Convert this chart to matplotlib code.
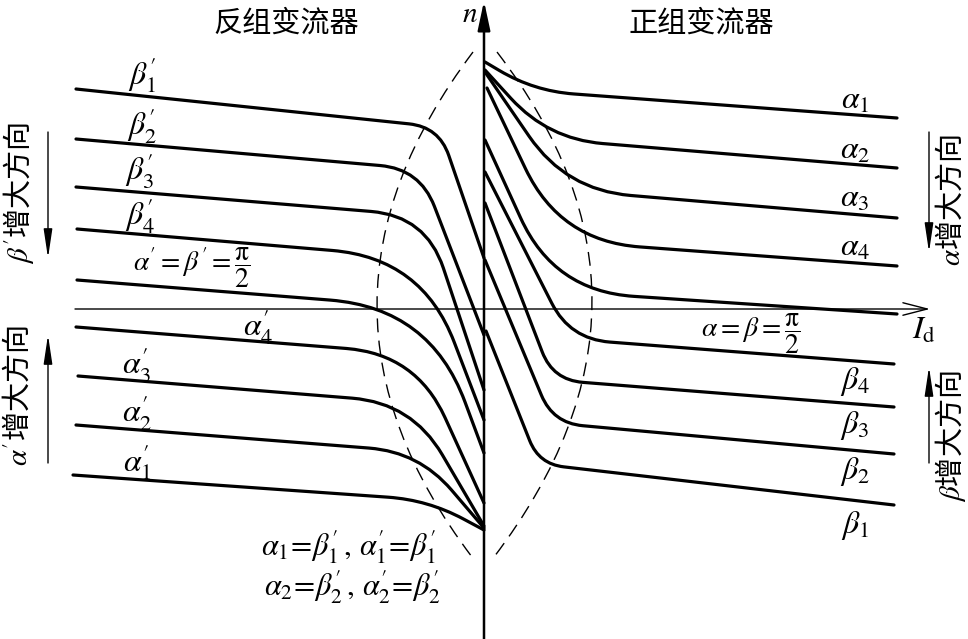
import numpy as np
import matplotlib.pyplot as plt
from matplotlib.path import Path
from matplotlib.patches import PathPatch

plt.rcParams['mathtext.fontset'] = 'stix'
plt.rcParams['font.family'] = ['Noto Sans CJK SC', 'DejaVu Sans']

# 正组变流器 (right side): start on n axis, bend corner, end point, bend size
right_start = [(1, 247), (1, 239), (1, 237), (3, 221), (1, 169), (1, 137), (1, 106), (1, 49), (2, -22)]
right_corner = [(50, 218), (64, 170), (82, 119), (76, 68), (70, 18), (86, -30), (69, -71), (69, -114), (55, -155)]
right_end = [(413, 191), (413, 141), (413, 91), (413, 43), (413, -5), (410, -55), (410, -98), (410, -145), (410, -196)]
right_round = [40, 55, 65, 80, 80, 40, 30, 30, 25]

# 反组变流器 (left side), top to bottom
left_start = [(-408, 220), (-408, 170), (-408, 122), (-407, 80), (-407, 29), (-408, -18), (-406, -67), (-408, -116), (-411, -166)]
left_corner = [(-45, 182), (-64, 140), (-58, 93), (-62, 51), (-54, 1), (-68, -45), (-72, -94), (-65, -143), (-56, -191)]
left_end = [(0, 51), (0, -26), (0, -81), (0, -111), (0, -144), (0, -194), (0, -217), (0, -219), (0, -221)]
left_round = [30, 40, 55, 90, 100, 70, 60, 50, 40]

# dashed envelopes: top, vertex, bottom
env_left = [(-11, 257), (-107, 4), (-12, -248)]
env_right = [(13, 257), (108, 6), (10, -248)]

right_labels = [r'$\alpha_1$', r'$\alpha_2$', r'$\alpha_3$', r'$\alpha_4$',
                r'$\beta_4$', r'$\beta_3$', r'$\beta_2$', r'$\beta_1$']
right_label_y = [209, 159, 111, 62, -73, -117, -163, -216]
left_labels = [r"$\beta_1^{\prime}$", r"$\beta_2^{\prime}$", r"$\beta_3^{\prime}$", r"$\beta_4^{\prime}$",
               r"$\alpha_3^{\prime}$", r"$\alpha_2^{\prime}$", r"$\alpha_1^{\prime}$"]
left_label_xy = [(-342, 234), (-342, 184), (-344, 139), (-344, 94),
                 (-347, -56), (-347, -104), (-347, -153)]


def rounded_curve(ax, S, C, E, r, **kw):
    S, C, E = (np.asarray(p, float) for p in (S, C, E))
    d1 = np.hypot(*(S - C))
    d2 = np.hypot(*(E - C))
    B1 = C + (S - C) / d1 * min(r, 0.97 * d1)
    B2 = C + (E - C) / d2 * min(r, 0.97 * d2)
    codes = [Path.MOVETO, Path.LINETO, Path.CURVE3, Path.CURVE3, Path.LINETO]
    ax.add_patch(PathPatch(Path([S, B1, C, B2, E], codes), fill=False, **kw))


def envelope(ax, pts, **kw):
    top, vert, bot = (np.asarray(p, float) for p in pts)
    ctrl = 2 * vert - 0.5 * (top + bot)
    codes = [Path.MOVETO, Path.CURVE3, Path.CURVE3]
    ax.add_patch(PathPatch(Path([top, ctrl, bot], codes), fill=False, **kw))


fig = plt.figure(figsize=(9.68, 6.39), dpi=100)
ax = fig.add_axes([0, 0, 1, 1])
ax.set_xlim(-484, 484)
ax.set_ylim(-330, 309)
ax.axis('off')

# axes
ax.annotate('', xy=(446, 0), xytext=(-409, 0),
            arrowprops=dict(arrowstyle='->,head_length=0.7,head_width=0.18', lw=1.0,
                            color='black', mutation_scale=25, shrinkA=0, shrinkB=0))
ax.annotate('', xy=(0, 308), xytext=(0, -330),
            arrowprops=dict(arrowstyle='-|>,head_length=0.7,head_width=0.15', lw=1.8,
                            color='black', mutation_scale=25, shrinkA=0, shrinkB=0))

curve_kw = dict(lw=2.3, color='black', capstyle='round', joinstyle='round')
for S, C, E, r in zip(right_start, right_corner, right_end, right_round):
    rounded_curve(ax, S, C, E, r, **curve_kw)
for S, C, E, r in zip(left_start, left_corner, left_end, left_round):
    rounded_curve(ax, S, C, E, r, **curve_kw)

dash_kw = dict(lw=1.0, color='black', linestyle=(0, (10, 6)))
envelope(ax, env_left, **dash_kw)
envelope(ax, env_right, **dash_kw)

fs = 23
for lab, y in zip(right_labels, right_label_y):
    ax.text(371, y, lab, fontsize=fs, ha='center', va='center')
for lab, (x, y) in zip(left_labels, left_label_xy):
    ax.text(x, y, lab, fontsize=fs, ha='center', va='center')

ax.text(267, -25, r'$\alpha=\beta=\dfrac{\mathrm{\pi}}{2}$', fontsize=20, ha='center', va='center')
ax.text(-292, 41, r"$\alpha^{\prime}=\beta^{\prime}=\dfrac{\mathrm{\pi}}{2}$", fontsize=20, ha='center', va='center')
ax.text(-226, -17, r"$\alpha_4^{\prime}$", fontsize=fs, ha='center', va='center')
ax.text(-135, -238, r"$\alpha_1\!=\!\beta_1^{\prime}\,,\,\alpha_1^{\prime}\!=\!\beta_1^{\prime}$", fontsize=22, ha='center', va='center')
ax.text(-132, -278, r"$\alpha_2\!=\!\beta_2^{\prime}\,,\,\alpha_2^{\prime}\!=\!\beta_2^{\prime}$", fontsize=22, ha='center', va='center')

ax.text(-14, 287, r'$n$', fontsize=21, ha='center', va='baseline')
ax.text(440, -21, r'$I_{\mathrm{d}}$', fontsize=fs, ha='center', va='center')

ax.text(-198, 285, '反组变流器', fontsize=21, ha='center', va='center')
ax.text(217, 285, '正组变流器', fontsize=21, ha='center', va='center')

# direction notes
ax.text(467, 109, r'$\alpha$增大方向', fontsize=21, rotation=90, ha='center', va='center')
ax.text(466, -127, r'$\beta$增大方向', fontsize=21, rotation=90, ha='center', va='center')
ax.text(-466, 116, r"$\beta^{\prime}$增大方向", fontsize=21, rotation=90, ha='center', va='center')
ax.text(-466, -86, r"$\alpha^{\prime}$增大方向", fontsize=21, rotation=90, ha='center', va='center')

arr = dict(arrowstyle='-|>,head_length=0.8,head_width=0.12', lw=1.0, color='black',
           mutation_scale=22, shrinkA=0, shrinkB=0)
ax.annotate('', xy=(445, 57), xytext=(445, 177), arrowprops=arr)
ax.annotate('', xy=(445, -58), xytext=(445, -154), arrowprops=arr)
ax.annotate('', xy=(-436, 51), xytext=(-436, 177), arrowprops=arr)
ax.annotate('', xy=(-436, -26), xytext=(-436, -154), arrowprops=arr)

fig.savefig('out.png', dpi=100)
